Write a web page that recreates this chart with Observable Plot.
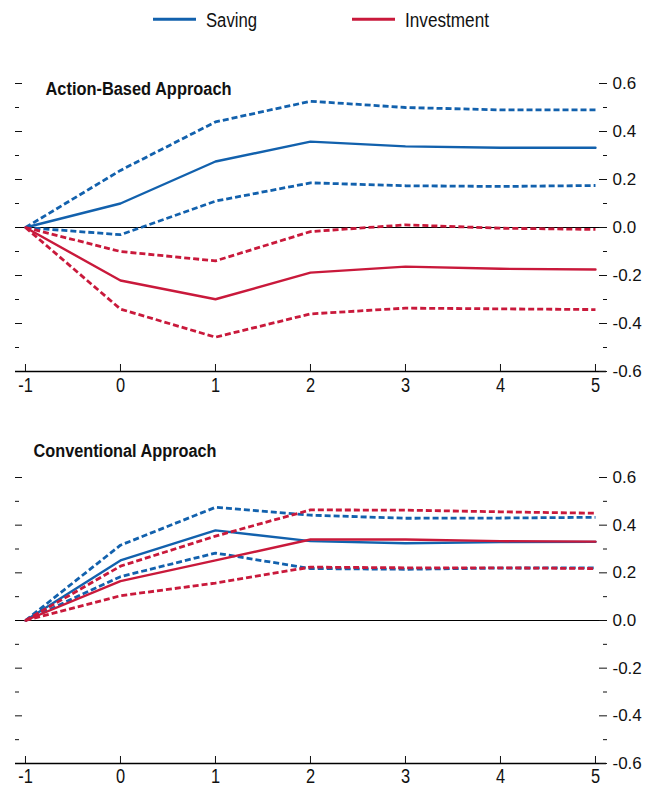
<!DOCTYPE html>
<html>
<head>
<meta charset="utf-8">
<script src="https://cdn.jsdelivr.net/npm/d3@7"></script>
<script src="https://cdn.jsdelivr.net/npm/@observablehq/plot@0.6"></script>
<style>
  html, body { margin: 0; padding: 0; background: #fff; }
  body { width: 650px; height: 787px; position: relative; overflow: hidden;
         font-family: "Liberation Sans", Arial, sans-serif; color: #111; }
  #legend { position: absolute; top: 0; left: 0; }
  #p1 { position: absolute; top: 40px; left: 0; }
  #p2 { position: absolute; top: 420px; left: 0; }
</style>
</head>
<body>
<div id="legend"></div>
<div id="p1"></div>
<div id="p2"></div>
<script>
// ---- data ----
const horizons = [-1, 0, 1, 2, 3, 4, 5];
const xTickLabels = ["-1", "0", "1", "2", "3", "4", "5"];
const yMajorTicks = [-0.6, -0.4, -0.2, 0, 0.2, 0.4, 0.6];
const yMinorTicks = [-0.5, -0.3, -0.1, 0.1, 0.3, 0.5];
const leftMajorTicks = [-0.4, -0.2, 0.2, 0.4, 0.6];
const panelTitles = ["Action-Based Approach", "Conventional Approach"];
const seriesNames = ["Saving", "Investment"];

// Action-Based Approach
const abSaving          = [0, 0.100, 0.275, 0.358, 0.338, 0.332, 0.332];
const abSavingUpper     = [0, 0.238, 0.440, 0.526, 0.500, 0.490, 0.490];
const abSavingLower     = [0, -0.030, 0.110, 0.186, 0.174, 0.171, 0.175];
const abInvestment      = [0, -0.221, -0.299, -0.188, -0.163, -0.172, -0.175];
const abInvestmentUpper = [0, -0.100, -0.139, -0.017, 0.011, -0.003, -0.008];
const abInvestmentLower = [0, -0.340, -0.457, -0.360, -0.336, -0.339, -0.342];

// Conventional Approach
const cvSaving          = [0, 0.252, 0.378, 0.333, 0.324, 0.329, 0.330];
const cvSavingUpper     = [0, 0.316, 0.475, 0.442, 0.429, 0.430, 0.433];
const cvSavingLower     = [0, 0.184, 0.283, 0.218, 0.215, 0.220, 0.221];
const cvInvestment      = [0, 0.165, 0.252, 0.340, 0.340, 0.333, 0.331];
const cvInvestmentUpper = [0, 0.228, 0.354, 0.464, 0.463, 0.456, 0.450];
const cvInvestmentLower = [0, 0.104, 0.157, 0.224, 0.221, 0.221, 0.218];

const BLUE = "#1261ad";
const RED = "#c9193b";
const FONT = '"Liberation Sans", Arial, sans-serif';

const rows = (vals) => horizons.map((h, i) => ({h, v: vals[i]}));

function panel({saving, savingU, savingL, inv, invU, invL, title, height, marginTop, marginBottom, titleDx, titleDy, xPad}) {
  const dash = {strokeWidth: 2.8, strokeDasharray: "6,3", strokeLinecap: "butt", strokeLinejoin: "miter"};
  const solid = {strokeWidth: 2.4};
  return Plot.plot({
    width: 650,
    height,
    marginTop,
    marginBottom,
    marginLeft: 15,
    marginRight: 44,
    style: {fontFamily: FONT, background: "white", color: "#111"},
    x: {domain: [-1.105, 5.116]},
    y: {domain: [-0.6, 0.6]},
    marks: [
      Plot.ruleY([0], {stroke: "#000", strokeWidth: 1.1}),
      Plot.ruleY([-0.6], {stroke: "#000", strokeWidth: 1.5}),
      Plot.axisX({anchor: "bottom", ticks: horizons, tickSize: -7, tickPadding: xPad,
                  tickFormat: (d) => xTickLabels[horizons.indexOf(d)], fontSize: 20, label: null}),
      Plot.axisY({anchor: "right", ticks: yMajorTicks, tickSize: -8, tickPadding: 14,
                  tickFormat: (d) => d.toFixed(1), fontSize: 17, label: null}),
      Plot.axisY({anchor: "right", ticks: yMinorTicks, tickSize: -4, fill: "none", label: null}),
      Plot.axisY({anchor: "left", ticks: leftMajorTicks, tickSize: -7, fill: "none", label: null}),
      Plot.axisY({anchor: "left", ticks: yMinorTicks, tickSize: -4, fill: "none", label: null}),
      Plot.line(rows(savingU), {x: "h", y: "v", stroke: BLUE, ...dash}),
      Plot.line(rows(savingL), {x: "h", y: "v", stroke: BLUE, ...dash}),
      Plot.line(rows(saving), {x: "h", y: "v", stroke: BLUE, ...solid}),
      Plot.line(rows(invU), {x: "h", y: "v", stroke: RED, ...dash}),
      Plot.line(rows(invL), {x: "h", y: "v", stroke: RED, ...dash}),
      Plot.line(rows(inv), {x: "h", y: "v", stroke: RED, ...solid}),
      Plot.text([title], {frameAnchor: "top-left", dx: titleDx, dy: titleDy, textAnchor: "start",
                          lineAnchor: "middle", fontWeight: "bold", fontSize: 18, fill: "#111"})
    ]
  });
}

// condense text horizontally (the original uses a narrow typeface)
function condense(root, selector, factorOrLength, absolute) {
  root.querySelectorAll(selector).forEach((t) => {
    const len = t.getComputedTextLength();
    t.setAttribute("textLength", absolute ? factorOrLength : len * factorOrLength);
    t.setAttribute("lengthAdjust", "spacingAndGlyphs");
  });
}

const p1 = panel({
  saving: abSaving, savingU: abSavingUpper, savingL: abSavingLower,
  inv: abInvestment, invU: abInvestmentUpper, invL: abInvestmentLower,
  title: panelTitles[0], height: 360, marginTop: 43, marginBottom: 29, titleDx: 30, titleDy: 6, xPad: 13
});
const p2 = panel({
  saving: cvSaving, savingU: cvSavingUpper, savingL: cvSavingLower,
  inv: cvInvestment, invU: cvInvestmentUpper, invL: cvInvestmentLower,
  title: panelTitles[1], height: 367, marginTop: 57, marginBottom: 24, titleDx: 18, titleDy: -26.7, xPad: 12
});
document.getElementById("p1").append(p1);
document.getElementById("p2").append(p2);
condense(p1, 'g[aria-label="x-axis tick label"] text', 0.82);
condense(p2, 'g[aria-label="x-axis tick label"] text', 0.82);
condense(p1, 'g[aria-label="text"] text', 186, true);
condense(p2, 'g[aria-label="text"] text', 183, true);

// ---- legend ----
const legendItems = [
  {name: seriesNames[0], color: BLUE, x1: 153, x2: 196, tx: 206, tl: 51},
  {name: seriesNames[1], color: RED, x1: 352, x2: 395, tx: 405, tl: 84}
];
const lg = d3.select("#legend").append("svg").attr("width", 650).attr("height", 40)
  .style("font-family", FONT);
lg.selectAll("line").data(legendItems).join("line")
  .attr("x1", (d) => d.x1).attr("x2", (d) => d.x2).attr("y1", 19.3).attr("y2", 19.3)
  .attr("stroke", (d) => d.color).attr("stroke-width", 3);
lg.selectAll("text").data(legendItems).join("text")
  .attr("x", (d) => d.tx).attr("y", 26.7).attr("font-size", 20).attr("fill", "#111")
  .attr("textLength", (d) => d.tl).attr("lengthAdjust", "spacingAndGlyphs")
  .text((d) => d.name);
</script>
</body>
</html>
